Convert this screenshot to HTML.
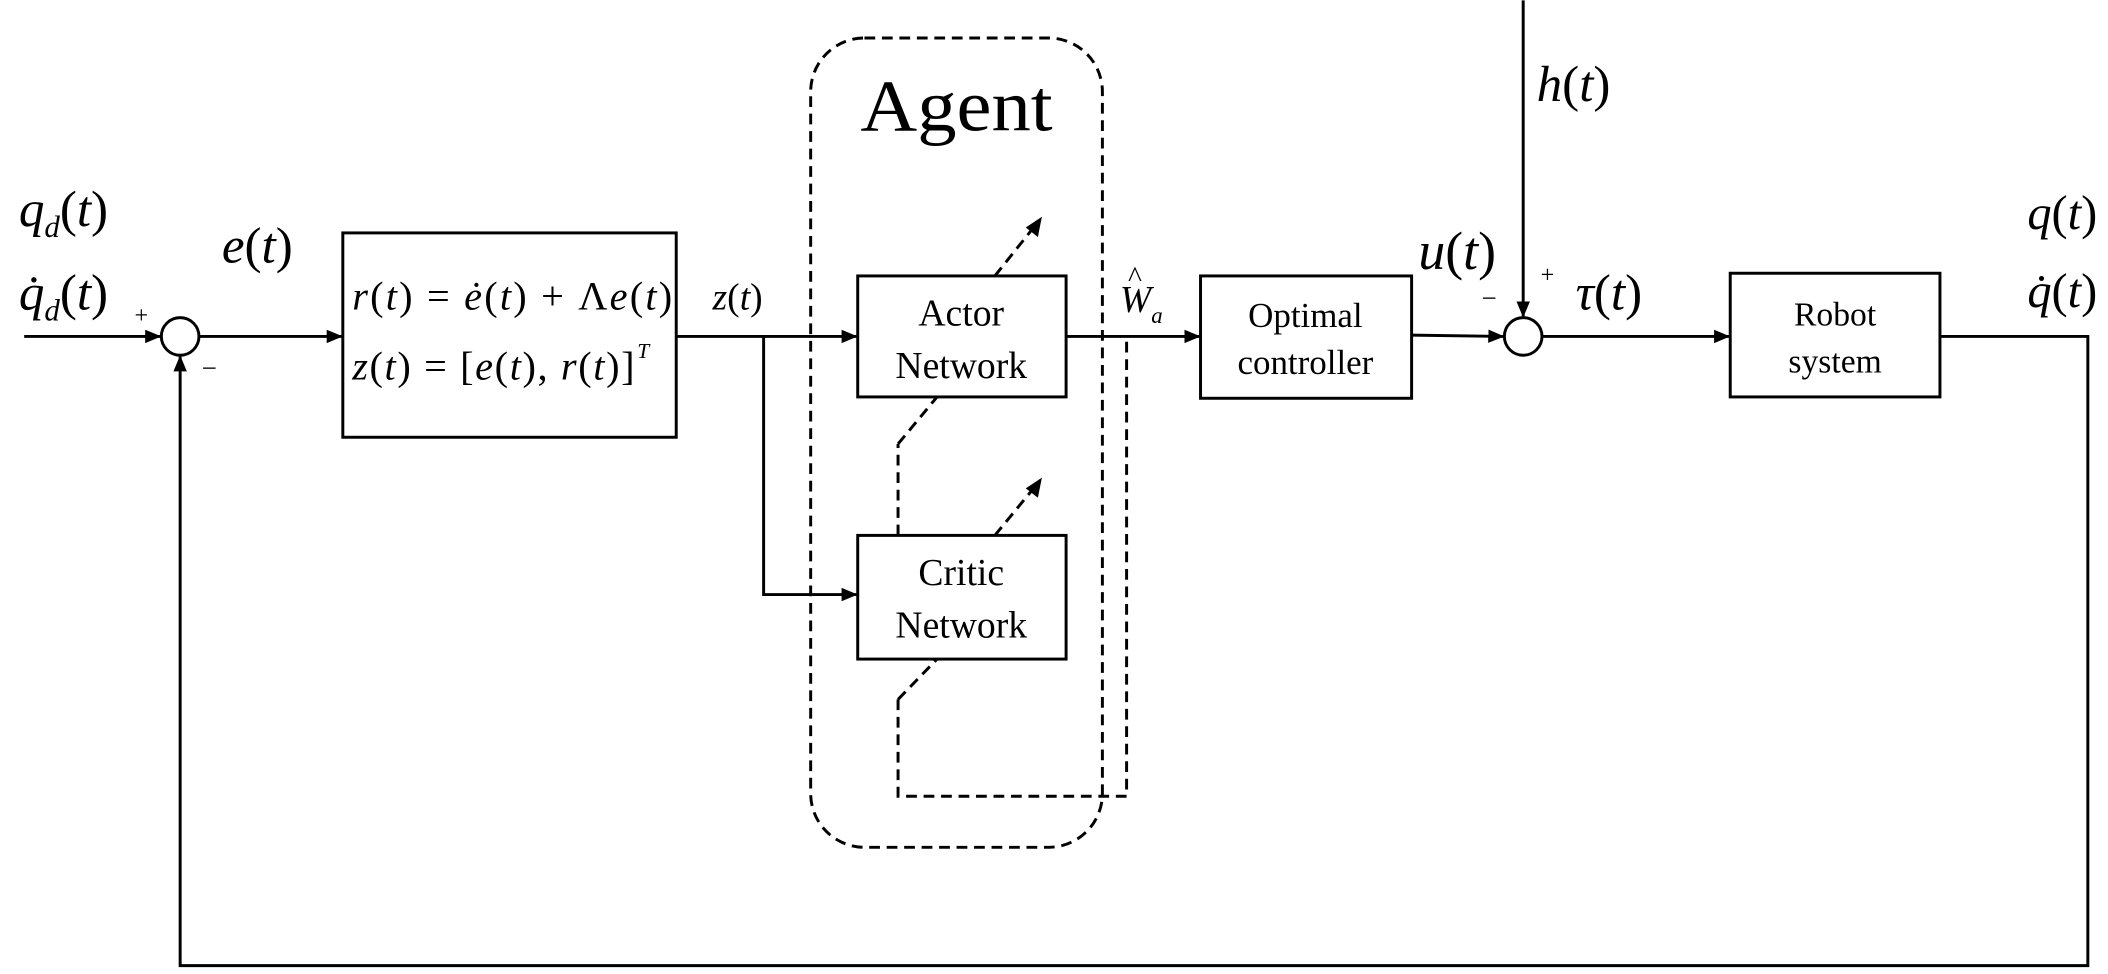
<!DOCTYPE html>
<html><head><style>
html,body{margin:0;padding:0;background:#fff;}
svg{display:block}
text{font-family:"Liberation Serif",serif;fill:#000}
.i{font-style:italic}
</style></head><body>
<svg width="2108" height="974" viewBox="0 0 1568 724" xmlns="http://www.w3.org/2000/svg">
<defs>
<marker id="a" markerWidth="12" markerHeight="10" refX="11" refY="5" orient="auto" markerUnits="userSpaceOnUse">
<path d="M0,0 L12,5 L0,10 Z" fill="#000"/></marker>
</defs>
<g stroke="#000" stroke-width="2.2" fill="none">
<line x1="18" y1="250" x2="119" y2="250" marker-end="url(#a)"/>
<circle cx="134" cy="250" r="14"/>
<line x1="148" y1="250" x2="254" y2="250" marker-end="url(#a)"/>
<rect x="255" y="173" width="248" height="152"/>
<line x1="503" y1="250" x2="637" y2="250" marker-end="url(#a)"/>
<polyline points="568,250 568,442 637,442" marker-end="url(#a)"/>
<rect x="638" y="205" width="155" height="90"/>
<rect x="638" y="398" width="155" height="92"/>
<line x1="793" y1="250" x2="892" y2="250" marker-end="url(#a)"/>
<rect x="893" y="205" width="157" height="91"/>
<line x1="1050" y1="249" x2="1118" y2="250" marker-end="url(#a)"/>
<circle cx="1133" cy="250" r="14"/>
<line x1="1133" y1="0" x2="1133" y2="235" marker-end="url(#a)"/>
<line x1="1147" y1="250" x2="1286" y2="250" marker-end="url(#a)"/>
<rect x="1287" y="203" width="156" height="92"/>
<polyline points="1443,250 1553,250 1553,718 134,718 134,265" marker-end="url(#a)"/>
</g>
<g stroke="#000" stroke-width="2.2" fill="none" stroke-dasharray="8,5">
<rect x="603" y="28" width="217" height="602" rx="40"/>
<line x1="668" y1="330" x2="697" y2="295"/>
<line x1="740" y1="205" x2="768" y2="170"/>
<line x1="668" y1="398" x2="668" y2="330"/>
<line x1="668" y1="520" x2="697" y2="490"/>
<line x1="740" y1="398" x2="768" y2="364"/>
<polyline points="668,520 668,592 838,592 838,250"/>
</g>
<path d="M775,161 L772,176 L763,169 Z" fill="#000"/>
<path d="M775,355 L772,370 L763,363 Z" fill="#000"/>
<text x="14" y="168" font-size="38" class="i">q<tspan font-size="23" dy="8">d</tspan><tspan dy="-8" font-style="normal">(</tspan>t<tspan font-style="normal">)</tspan></text>
<text x="14" y="230" font-size="38" class="i">q̇<tspan font-size="23" dy="8">d</tspan><tspan dy="-8" font-style="normal">(</tspan>t<tspan font-style="normal">)</tspan></text>
<text x="100" y="240" font-size="18">+</text>
<text x="150" y="280" font-size="20">−</text>
<text x="165" y="195" font-size="38" class="i">e<tspan font-style="normal">(</tspan>t<tspan font-style="normal">)</tspan></text>
<text x="262" y="230" font-size="30" class="i" textLength="238" lengthAdjust="spacing">r<tspan font-style="normal">(</tspan>t<tspan font-style="normal">) = </tspan>ė<tspan font-style="normal">(</tspan>t<tspan font-style="normal">) + Λ</tspan>e<tspan font-style="normal">(</tspan>t<tspan font-style="normal">)</tspan></text>
<text x="262" y="282" font-size="30" class="i" textLength="210" lengthAdjust="spacing">z<tspan font-style="normal">(</tspan>t<tspan font-style="normal">) = [</tspan>e<tspan font-style="normal">(</tspan>t<tspan font-style="normal">), </tspan>r<tspan font-style="normal">(</tspan>t<tspan font-style="normal">)]</tspan></text>
<text x="474" y="266" font-size="16" class="i">T</text>
<text x="530" y="230" font-size="28" class="i">z<tspan font-style="normal">(</tspan>t<tspan font-style="normal">)</tspan></text>
<text x="640" y="97" font-size="54" textLength="143" lengthAdjust="spacingAndGlyphs">Agent</text>
<text x="715" y="242" font-size="28" text-anchor="middle">Actor</text>
<text x="715" y="281" font-size="28" text-anchor="middle">Network</text>
<text x="715" y="435" font-size="28" text-anchor="middle">Critic</text>
<text x="715" y="474" font-size="28" text-anchor="middle">Network</text>
<text x="833" y="232" font-size="28" class="i">W<tspan font-size="17" dy="8">a</tspan></text>
<text x="839" y="213" font-size="22">^</text>
<text x="971" y="243" font-size="26" text-anchor="middle">Optimal</text>
<text x="971" y="278" font-size="26" text-anchor="middle">controller</text>
<text x="1365" y="242" font-size="25" text-anchor="middle">Robot</text>
<text x="1365" y="277" font-size="25" text-anchor="middle">system</text>
<text x="1055" y="200" font-size="40" class="i">u<tspan font-style="normal">(</tspan>t<tspan font-style="normal">)</tspan></text>
<text x="1143" y="75" font-size="38" class="i">h<tspan font-style="normal">(</tspan>t<tspan font-style="normal">)</tspan></text>
<text x="1102" y="228" font-size="20">−</text>
<text x="1146" y="210" font-size="18">+</text>
<text x="1172" y="230" font-size="38" class="i">τ<tspan font-style="normal">(</tspan>t<tspan font-style="normal">)</tspan></text>
<text x="1508" y="170" font-size="36" class="i">q<tspan font-style="normal">(</tspan>t<tspan font-style="normal">)</tspan></text>
<text x="1508" y="228" font-size="36" class="i">q̇<tspan font-style="normal">(</tspan>t<tspan font-style="normal">)</tspan></text>
</svg>
</body></html>
